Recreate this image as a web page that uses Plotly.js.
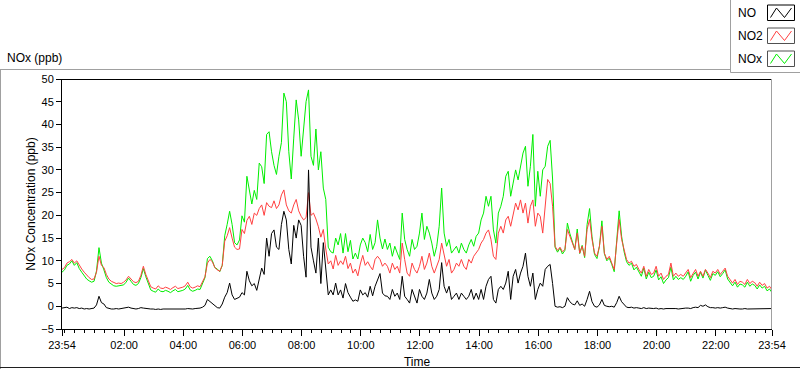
<!DOCTYPE html>
<html><head><meta charset="utf-8">
<script src="https://cdn.plot.ly/plotly-3.0.1.min.js"></script>
<style>html,body{margin:0;padding:0;background:#fff;overflow:hidden;} #chart{width:800px;height:369px;}</style>
</head><body><div id="chart"></div>
<script>
// ---- data (5-minute samples starting 23:54) ----
const startTime = [2020, 0, 1, 23, 54];
const stepMinutes = 5;
const seriesNames = ['NO', 'NO2', 'NOx'];
const tickLabels = ['23:54','02:00','04:00','06:00','08:00','10:00','12:00','14:00','16:00','18:00','20:00','22:00','23:54'];
const tickHours = [0, 2.1, 4.1, 6.1, 8.1, 10.1, 12.1, 14.1, 16.1, 18.1, 20.1, 22.1, 24]; // hours after 23:54

const NO = [
 -0.4,-0.3,-0.2,-0.5,-0.3,-0.4,-0.3,-0.5,-0.4,-0.6,-0.5,-0.6,
 -0.5,-0.4,0.3,2.2,0.8,0.5,-0.3,-0.5,-0.6,-0.6,-0.5,-0.6,
 -0.5,-0.5,-0.3,-0.2,-0.4,-0.5,-0.6,-0.5,-0.3,-0.4,-0.5,-0.6,
 -0.6,-0.6,-0.7,-0.6,-0.7,-0.6,-0.6,-0.6,-0.7,-0.6,-0.6,-0.6,
 -0.6,-0.6,-0.6,-0.5,-0.6,-0.6,-0.5,-0.5,-0.4,-0.2,0.2,1.5,
 1.1,0.6,0.2,-0.3,-0.4,0.5,2.0,3.0,5.1,2.5,1.5,1.8,
 2.0,3.0,2.5,7.7,5.6,4.5,5.0,3.5,5.8,8.4,7.0,15.0,
 11.0,16.0,16.8,13.0,12.5,18.0,20.9,19.0,12.5,9.3,17.8,15.0,
 19.0,17.8,11.0,6.4,30.0,13.0,10.0,7.3,15.0,5.0,14.0,7.3,
 2.5,3.6,2.5,5.1,2.5,3.6,1.8,5.0,3.0,2.0,1.1,1.4,
 1.1,3.6,2.5,3.0,2.0,4.4,2.3,4.4,5.7,7.2,2.9,2.3,
 2.2,1.5,3.7,2.2,2.9,1.5,6.6,2.2,1.5,0.7,3.7,2.2,
 0.7,3.7,2.2,1.5,2.9,5.9,2.9,1.5,2.2,3.7,9.6,4.4,
 2.9,4.4,1.5,2.2,2.9,1.5,2.9,2.2,1.5,2.2,3.7,1.5,
 2.9,1.5,3.7,1.5,4.4,5.9,6.6,1.5,0.7,3.7,4.4,3.7,
 5.1,7.7,1.5,6.6,8.1,5.1,7.3,8.8,11.7,6.6,4.4,7.3,
 1.5,3.7,5.1,4.4,8.1,8.8,9.2,5.0,0.0,-0.2,-0.1,-0.3,
 0.0,1.9,1.0,0.5,0.3,1.2,0.2,0.5,0.0,1.5,3.3,1.0,
 0.0,-0.2,0.3,1.5,0.2,0.0,-0.1,0.0,-0.2,0.8,2.2,1.0,
 0.3,-0.2,-0.3,-0.2,-0.4,-0.3,-0.4,-0.5,-0.3,-0.5,-0.4,-0.5,
 -0.5,-0.4,-0.6,-0.5,-0.6,-0.5,-0.5,-0.4,-0.5,-0.5,-0.6,-0.5,
 -0.5,-0.4,-0.4,-0.5,-0.3,-0.2,-0.3,0.2,0.0,0.3,-0.1,-0.3,
 -0.3,-0.4,-0.3,-0.4,-0.3,-0.2,-0.4,-0.5,-0.6,-0.5,-0.6,-0.6,
 -0.6,-0.5,-0.6,-0.6,-0.5,-0.6,-0.6,-0.5,-0.6,-0.6,-0.6,-0.6,-0.5
];
const NO2 = [
 8.1,8.5,9.5,9.8,10.3,9.5,10.0,9.0,8.2,7.5,6.8,6.3,
 5.9,6.0,7.5,11.0,9.0,8.5,7.0,6.0,5.5,5.3,5.0,5.1,
 5.0,5.3,5.8,6.6,6.0,5.4,5.2,5.5,6.8,8.8,7.0,5.5,
 4.3,4.0,3.8,4.5,4.0,3.9,4.2,4.0,3.7,4.1,4.4,3.9,
 4.0,4.2,4.5,5.3,4.3,4.0,4.2,4.5,4.3,5.5,6.5,9.5,
 10.3,9.8,8.5,8.0,7.7,9.0,14.3,15.5,17.3,15.0,13.0,12.5,
 12.6,16.9,16.0,18.9,19.8,18.0,20.5,20.0,21.5,22.3,20.0,22.8,
 22.0,21.7,23.2,21.5,22.3,24.5,25.6,22.3,21.0,20.5,22.3,23.5,
 21.0,19.8,19.0,19.5,25.0,20.0,20.5,19.2,17.5,15.2,16.9,12.6,
 9.3,10.0,8.2,11.2,9.0,10.0,9.2,11.0,8.3,9.5,7.3,8.2,
 6.7,9.3,11.2,9.0,9.8,8.8,8.0,10.3,11.0,10.3,8.8,9.5,
 8.8,7.3,9.5,8.1,8.8,7.3,13.9,10.3,7.3,6.6,9.5,8.1,
 7.3,8.8,11.0,8.1,9.5,11.7,8.8,7.3,8.8,10.3,13.9,11.0,
 8.8,10.3,7.3,8.1,9.5,8.8,10.3,8.8,8.1,10.3,9.5,11.0,
 11.7,12.5,13.9,14.7,16.1,16.8,14.7,11.0,10.3,16.1,17.6,16.1,
 19.0,19.8,17.6,20.5,22.7,21.2,23.4,20.5,22.7,18.3,22.0,23.4,
 17.6,20.5,19.8,16.1,22.0,27.9,27.0,22.0,13.2,12.3,13.0,12.0,
 12.5,16.9,15.4,13.9,12.5,16.1,11.7,13.2,11.0,16.9,19.1,14.7,
 11.7,11.0,13.2,17.6,11.7,10.3,11.0,9.5,8.1,13.9,19.1,14.7,
 12.5,10.3,9.5,9.9,8.8,9.2,8.1,7.3,8.8,6.6,8.1,7.0,
 7.3,8.8,6.6,7.3,5.9,6.6,7.0,9.5,6.6,7.3,6.6,7.0,
 6.6,7.3,8.1,6.3,7.3,8.1,6.6,7.7,6.6,8.1,7.3,6.3,
 7.7,7.3,8.1,7.0,7.7,8.4,6.6,5.9,5.1,5.9,4.8,5.5,
 5.3,4.8,5.9,5.0,5.5,5.2,4.4,5.3,4.6,5.0,4.0,4.4,3.6
];
const NOx = [
 7.5,8.0,9.0,9.3,10.0,9.0,9.6,8.3,7.5,6.8,6.0,5.6,
 5.3,5.5,7.8,12.9,9.5,8.0,6.3,5.3,4.8,4.5,4.4,4.5,
 4.5,4.7,5.3,6.2,5.5,4.8,4.6,5.0,6.3,8.3,6.5,4.8,
 3.6,3.3,3.1,3.8,3.3,3.2,3.5,3.3,3.0,3.4,3.7,3.2,
 3.3,3.5,3.8,4.6,3.6,3.3,3.5,3.8,3.7,5.0,6.3,10.5,
 11.0,10.0,8.5,8.2,7.6,9.0,15.5,18.0,20.9,18.0,14.0,13.5,
 14.6,19.9,18.5,28.6,25.4,22.5,25.5,23.5,31.5,30.7,27.0,37.8,
 38.4,34.0,31.0,29.0,33.0,36.0,46.9,45.0,34.0,28.0,37.0,45.4,
 41.0,33.0,39.0,45.0,47.6,33.0,31.0,39.0,30.0,34.0,26.0,23.5,
 13.0,12.0,11.7,15.0,13.5,16.0,11.7,16.0,12.0,14.5,10.4,11.7,
 10.4,13.5,15.0,14.0,12.0,15.8,12.5,14.0,19.0,15.0,12.6,14.8,
 12.5,13.9,11.0,13.2,11.7,10.3,20.5,14.7,12.5,11.0,14.7,12.5,
 13.2,16.1,20.5,14.7,17.6,16.1,13.9,11.0,13.2,17.6,26.0,16.1,
 13.2,14.7,11.7,12.5,13.2,11.7,13.9,12.5,11.7,13.5,14.7,13.2,
 15.4,16.1,19.0,20.5,24.2,22.0,24.2,16.8,13.9,20.5,22.0,24.2,
 28.6,29.7,24.2,27.1,30.0,27.8,30.8,33.7,35.2,26.4,30.8,37.8,
 22.0,29.7,24.2,30.0,30.8,35.2,36.5,28.0,13.0,11.9,12.8,11.5,
 12.3,18.3,16.0,14.1,12.5,17.0,11.6,13.4,10.7,18.0,21.5,15.3,
 11.4,10.5,13.2,18.8,11.6,10.0,10.6,9.2,7.6,14.4,21.0,15.4,
 12.0,9.8,9.0,9.5,8.0,8.6,7.5,6.6,8.4,6.0,7.5,6.3,
 6.6,8.0,5.8,6.5,5.0,5.8,6.3,8.6,5.8,6.6,5.9,6.3,
 5.9,6.6,7.6,5.5,6.8,7.5,6.0,7.5,6.2,8.0,6.8,5.7,
 7.2,6.8,7.6,6.5,7.2,8.0,6.0,5.3,4.5,5.3,4.2,4.9,
 4.7,4.2,5.3,4.4,4.9,4.6,3.8,4.7,4.0,4.4,3.4,3.8,3.0
];

// ---- build time axis ----
const t0 = Date.UTC.apply(null, startTime);
function fmt(ms){ return new Date(ms).toISOString().replace('T',' ').slice(0,19); }
const times = NO.map((_, i) => fmt(t0 + i * stepMinutes * 60000));
const tickVals = tickHours.map(h => fmt(t0 + Math.round(h * 60) * 60000));
const tEnd = fmt(t0 + 24 * 3600000);

// ---- geometry helpers (pixel -> paper) ----
const PL = 62, PT = 79, PW = 710, PH = 250;
const X = px => (px - PL) / PW;
const Y = py => (PT + PH - py) / PH;
const FONT = '"Liberation Sans", Arial, sans-serif';
const colors = {NO: '#000000', NO2: '#ff4040', NOx: '#00ee00'};

const traces = [
  {x: times, y: NOx, name: seriesNames[2], type: 'scatter', mode: 'lines', line: {color: colors.NOx, width: 1}},
  {x: times, y: NO2, name: seriesNames[1], type: 'scatter', mode: 'lines', line: {color: colors.NO2, width: 1}},
  {x: times, y: NO,  name: seriesNames[0], type: 'scatter', mode: 'lines', line: {color: colors.NO,  width: 1}}
];

const shapes = [];
function line(x0,y0,x1,y1,color){ shapes.push({type:'line', xref:'paper', yref:'paper', x0:X(x0), y0:Y(y0), x1:X(x1), y1:Y(y1), line:{color:color, width:1}}); }
// outer frame
line(0, 69.5, 731, 69.5, '#a0a0a0');
line(0.5, 69, 0.5, 369, '#a0a0a0');
line(0, 367.5, 800, 367.5, '#202020');
// plot border top/right
line(62, 79.5, 772, 79.5, '#000000');
line(771.5, 79, 771.5, 329, '#a0a0a0');
// legend box
shapes.push({type:'rect', xref:'paper', yref:'paper', x0:X(730.5), y0:Y(72.5), x1:X(802), y1:Y(-2), line:{color:'#a0a0a0', width:1}, fillcolor:'#ffffff'});
const legendRows = [13, 36, 59];
const legendColors = [colors.NO, colors.NO2, colors.NOx];
const annotations = [];
legendRows.forEach((cy, k) => {
  const top = cy - 8, bot = cy + 7.5, l = 767.5, r = 794.5;
  shapes.push({type:'rect', xref:'paper', yref:'paper', x0:X(l), y0:Y(bot), x1:X(r), y1:Y(top), line:{color: k===0 ? '#000000' : '#505050', width:1}, fillcolor:'#ffffff'});
  const pts = [[l+3, bot-3], [l+9, top+3], [l+17, bot-3], [l+24, top+3]];
  const path = 'M ' + pts.map(p => X(p[0]) + ',' + Y(p[1])).join(' L ');
  shapes.push({type:'path', xref:'paper', yref:'paper', path: path, line:{color: legendColors[k], width:1}});
  annotations.push({xref:'paper', yref:'paper', x:X(736), y:Y(cy), xanchor:'left', yanchor:'middle', text: seriesNames[k], showarrow:false, font:{family:FONT, size:12, color:'#000'}});
});
annotations.push({xref:'paper', yref:'paper', x:X(5), y:Y(58), xanchor:'left', yanchor:'middle', text:'NOx (ppb)', showarrow:false, font:{family:FONT, size:12, color:'#000'}});

const layout = {
  width: 800, height: 369,
  margin: {l: PL, r: 800 - PL - PW, t: PT, b: 369 - PT - PH, pad: 0},
  paper_bgcolor: '#ffffff', plot_bgcolor: '#ffffff',
  showlegend: false,
  font: {family: FONT, size: 11, color: '#000'},
  xaxis: {
    type: 'date', range: [times[0], tEnd],
    tickmode: 'array', tickvals: tickVals, ticktext: tickLabels,
    ticks: 'outside', ticklen: 6, tickcolor: '#000', tickwidth: 1,
    showline: true, linecolor: '#000', linewidth: 1,
    showgrid: false, zeroline: false,
    tickfont: {family: FONT, size: 11, color: '#000'},
    minor: {ticks: 'outside', ticklen: 3, tickcolor: '#000', tickwidth: 1, dtick: 20 * 60000, tick0: '2020-01-02 00:00:00', showgrid: false},
    title: {text: 'Time', font: {family: FONT, size: 12, color: '#000'}, standoff: 7}
  },
  yaxis: {
    range: [-5, 50], tickmode: 'linear', tick0: 0, dtick: 5,
    ticks: 'outside', ticklen: 5, tickcolor: '#000', tickwidth: 1,
    showline: true, linecolor: '#000', linewidth: 1,
    showgrid: false, zeroline: false,
    tickfont: {family: FONT, size: 11, color: '#000'},
    title: {text: 'NOx Concentration (ppb)', font: {family: FONT, size: 12, color: '#000'}, standoff: 3}
  },
  shapes: shapes,
  annotations: annotations
};

Plotly.newPlot('chart', traces, layout, {displayModeBar: false, staticPlot: true});
</script>
</body></html>
